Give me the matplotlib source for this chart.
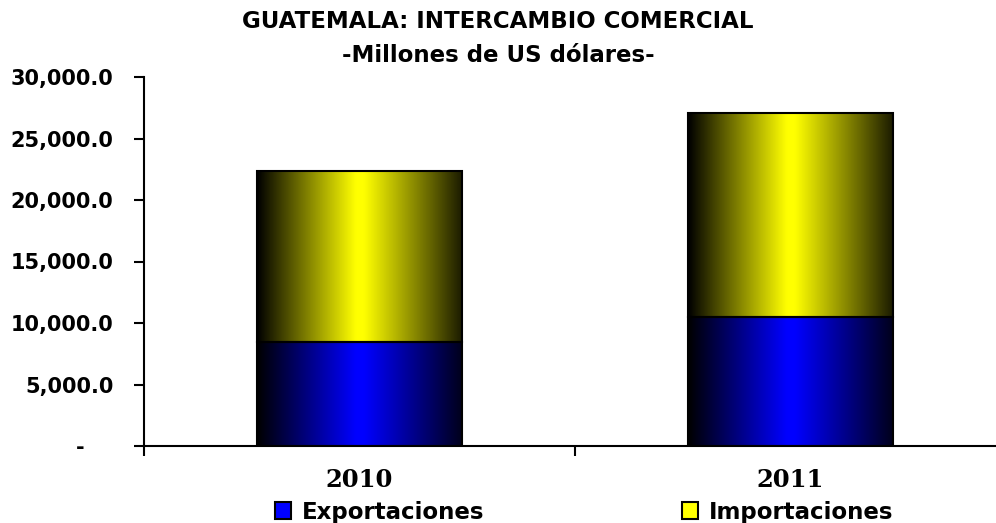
import numpy as np
import matplotlib
matplotlib.use("Agg")
import matplotlib.pyplot as plt
from matplotlib.colors import LinearSegmentedColormap
from matplotlib.ticker import FuncFormatter
from matplotlib.patches import Patch

years = ["2010", "2011"]
exportaciones = [8466.0, 10510.0]
importaciones = [13880.0, 16600.0]
series_names = ["Exportaciones", "Importaciones"]
series_colors = ["#0000ff", "#ffff00"]
title_text = "GUATEMALA: INTERCAMBIO COMERCIAL\n-Millones de US dólares-"

fig = plt.figure(figsize=(9.96, 5.23), dpi=100)
ax = fig.add_axes([144/996, (523-446)/523, (1006-144)/996, 369/523])

x = np.arange(len(years))
width = 0.477

def grad_cmap(c):
    return LinearSegmentedColormap.from_list("g", [(0, "#000000"), (0.48, c), (0.52, c), (1, "#1a1a00" if c == "#ffff00" else "#00001a")])

bottoms = np.zeros(len(years))
for vals, name, col in zip([exportaciones, importaciones], series_names, series_colors):
    bars = ax.bar(x, vals, width, bottom=bottoms, facecolor="none", edgecolor="black",
                  linewidth=1.5, zorder=3)
    grad = np.linspace(0, 1, 256).reshape(1, -1)
    for b in bars:
        x0, y0, w, h = b.get_x(), b.get_y(), b.get_width(), b.get_height()
        ax.imshow(grad, cmap=grad_cmap(col), extent=(x0, x0 + w, y0, y0 + h),
                  aspect="auto", zorder=2, interpolation="bilinear")
    bottoms = bottoms + np.array(vals)

ax.set_xlim(-0.5, 1.5)
ax.set_ylim(0, 30000)

for s in ["top", "right"]:
    ax.spines[s].set_visible(False)
for s in ["left", "bottom"]:
    ax.spines[s].set_linewidth(1.5)

ax.set_yticks(np.arange(0, 30001, 5000))
ax.yaxis.set_major_formatter(FuncFormatter(lambda v, p: "-    " if v == 0 else f"{v:,.1f}"))
ax.tick_params(axis="y", direction="out", length=7, width=1.5, pad=15, labelsize=15)
for lab in ax.get_yticklabels():
    lab.set_fontweight("bold")

ax.set_xticks([-0.5, 0.5, 1.5])
ax.set_xticklabels([])
ax.tick_params(axis="x", which="major", direction="out", length=7, width=1.5)
ax.set_xticks(x, minor=True)
ax.set_xticklabels(years, minor=True, fontfamily="DejaVu Serif", fontweight="bold", fontsize=17.5)
ax.tick_params(axis="x", which="minor", length=0, pad=16)

fig.text(0.5, 1 - 38.5/523, title_text, ha="center", va="center", fontsize=16.5,
         fontweight="bold", linespacing=1.62)

handles = [Patch(facecolor=c, edgecolor="black", linewidth=1.5) for c in series_colors]
leg = fig.legend(handles, series_names, loc="center", bbox_to_anchor=(0.5865, 1 - 512/523),
                 ncol=2, frameon=False, prop={"weight": "bold", "size": 16.5},
                 columnspacing=8.6, handlelength=0.7, handleheight=0.7, handletextpad=0.5)

fig.savefig("out.png", dpi=100)
